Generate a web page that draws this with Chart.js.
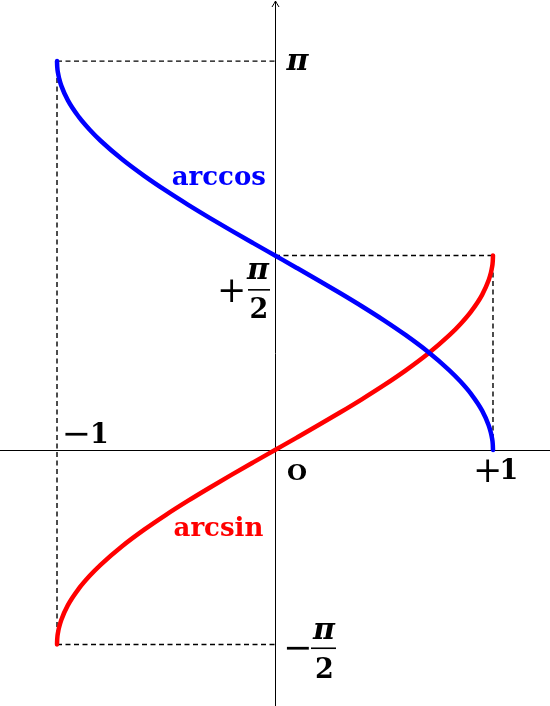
<!DOCTYPE html>
<html><head><meta charset="utf-8">
<script src="https://cdn.jsdelivr.net/npm/chart.js@4/dist/chart.umd.min.js"></script>
<style>html,body{margin:0;padding:0;background:#fff;}canvas{display:block}</style>
</head><body><canvas id="c" width="550" height="706"></canvas>
<script>
// x samples and the values
const xValues = [-1, -0.999, -0.995, -0.99, -0.98, -0.95, -0.9, -0.85, -0.8, -0.7, -0.6, -0.5, -0.4, -0.3, -0.2, -0.1, 0,
  0.1, 0.2, 0.3, 0.4, 0.5, 0.6, 0.7, 0.8, 0.85, 0.9, 0.95, 0.98, 0.99, 0.995, 0.999, 1];
const arcsinValues = [-1.5708, -1.5260, -1.4707, -1.4293, -1.3705, -1.2532, -1.1198, -1.0160, -0.9273, -0.7754, -0.6435, -0.5236, -0.4115, -0.3047, -0.2014, -0.1002, 0,
  0.1002, 0.2014, 0.3047, 0.4115, 0.5236, 0.6435, 0.7754, 0.9273, 1.0160, 1.1198, 1.2532, 1.3705, 1.4293, 1.4707, 1.5260, 1.5708];
const arccosValues = [3.1416, 3.0968, 3.0415, 3.0001, 2.9413, 2.8240, 2.6906, 2.5868, 2.4981, 2.3462, 2.2143, 2.0944, 1.9823, 1.8755, 1.7722, 1.6710, 1.5708,
  1.4706, 1.3694, 1.2661, 1.1593, 1.0472, 0.9273, 0.7954, 0.6435, 0.5548, 0.4510, 0.3176, 0.2003, 0.1415, 0.1002, 0.0447, 0];
const seriesNames = ['arcsin', 'arccos'];
// key levels on the axes
const PI_VAL = 3.1416, HALF_PI = 1.5708;
const guideX = [[-1, 0], [-1, -1], [-1, 0], [0, 1], [1, 1]];
const guideY = [[PI_VAL, PI_VAL], [PI_VAL, -HALF_PI], [-HALF_PI, -HALF_PI], [HALF_PI, HALF_PI], [HALF_PI, 0]];
const xRange = [-1.2615, 1.2615];
const yRange = [-2.068, 3.635];

const toPts = (xs, ys) => xs.map((x, i) => ({x: x, y: ys[i]}));

const datasets = [];
guideX.forEach((gx, i) => {
  datasets.push({
    data: toPts(gx, guideY[i]), borderColor: '#000', borderWidth: 1.4, borderDash: [5, 3.5],
    pointRadius: 0, showLine: true, order: 2, tension: 0
  });
});
datasets.push({
  label: seriesNames[0], data: toPts(xValues, arcsinValues), borderColor: '#ff0000', borderWidth: 4.5,
  pointRadius: 0, showLine: true, order: 1, cubicInterpolationMode: 'monotone', borderCapStyle: 'round', borderJoinStyle: 'round'
});
datasets.push({
  label: seriesNames[1], data: toPts(xValues, arccosValues), borderColor: '#0000ff', borderWidth: 4.5,
  pointRadius: 0, showLine: true, order: 0, cubicInterpolationMode: 'monotone', borderCapStyle: 'round', borderJoinStyle: 'round'
});

function drawInk(ctx, text, cx, cy, font, color) {
  ctx.font = font;
  ctx.fillStyle = color;
  const m = ctx.measureText(text);
  const w = m.actualBoundingBoxLeft + m.actualBoundingBoxRight;
  const h = m.actualBoundingBoxAscent + m.actualBoundingBoxDescent;
  ctx.textAlign = 'left';
  ctx.textBaseline = 'alphabetic';
  ctx.fillText(text, cx - w / 2 + m.actualBoundingBoxLeft, cy - h / 2 + m.actualBoundingBoxAscent);
}

const DIGIT = 'bold 27px "DejaVu Serif"';
const PIF = 'bold italic 30px "DejaVu Serif"';
const SIGN = '35px "DejaVu Serif"';
const LBL = 'bold 26px "DejaVu Serif"';

const axesPlugin = {
  id: 'axes',
  beforeDatasetsDraw(chart) {
    const ctx = chart.ctx, xs = chart.scales.x, ys = chart.scales.y, a = chart.chartArea;
    const x0 = Math.round(xs.getPixelForValue(0)) + 0.5, y0 = Math.round(ys.getPixelForValue(0)) + 0.5;
    ctx.save();
    ctx.strokeStyle = '#000'; ctx.lineWidth = 1;
    ctx.beginPath();
    ctx.moveTo(a.left, y0); ctx.lineTo(a.right, y0);
    ctx.moveTo(x0, a.bottom); ctx.lineTo(x0, a.top + 1);
    ctx.stroke();
    ctx.beginPath();
    ctx.moveTo(x0 - 3.5, a.top + 7); ctx.quadraticCurveTo(x0 - 1, a.top + 3, x0, a.top + 1);
    ctx.quadraticCurveTo(x0 + 1, a.top + 3, x0 + 3.5, a.top + 7);
    ctx.stroke();
    ctx.restore();
  },
  afterDraw(chart) {
    const ctx = chart.ctx, xs = chart.scales.x, ys = chart.scales.y;
    const px = v => xs.getPixelForValue(v), py = v => ys.getPixelForValue(v);
    const X0 = px(0), Y0 = py(0), YP = py(PI_VAL), YH = py(HALF_PI), YN = py(-HALF_PI);
    ctx.save();
    // pi
    drawInk(ctx, 'π', X0 + 22.5, YP + 0.5, PIF, '#000');
    // + pi/2
    drawInk(ctx, '+', X0 - 43.5, YH + 34.5, SIGN, '#000');
    drawInk(ctx, 'π', X0 - 17, YH + 15, PIF, '#000');
    ctx.fillStyle = '#000'; ctx.fillRect(X0 - 27, YH + 33.5, 22, 1.6);
    drawInk(ctx, '2', X0 - 16.5, YH + 51.5, DIGIT, '#000');
    // - pi/2
    drawInk(ctx, '−', X0 + 22.5, YN + 3.5, SIGN, '#000');
    drawInk(ctx, 'π', X0 + 49, YN - 13, PIF, '#000');
    ctx.fillStyle = '#000'; ctx.fillRect(X0 + 36, YN + 3, 25, 1.6);
    drawInk(ctx, '2', X0 + 49, YN + 23.5, DIGIT, '#000');
    // -1, +1, O
    drawInk(ctx, '−', px(-1) + 19, Y0 - 16, SIGN, '#000');
    drawInk(ctx, '1', px(-1) + 43, Y0 - 17, DIGIT, '#000');
    drawInk(ctx, '+', px(1) - 5.5, Y0 + 21, SIGN, '#000');
    drawInk(ctx, '1', px(1) + 16.5, Y0 + 19, DIGIT, '#000');
    drawInk(ctx, 'O', X0 + 22, Y0 + 22, 'bold 23px "DejaVu Serif"', '#000');
    // curve names
    drawInk(ctx, seriesNames[1], 219, 178, LBL, '#0000ff');
    drawInk(ctx, seriesNames[0], 219, 526, LBL, '#ff0000');
    ctx.restore();
  }
};

new Chart(document.getElementById('c'), {
  type: 'scatter',
  data: { datasets: datasets },
  options: {
    responsive: false, animation: false, events: [],
    layout: { padding: 0 },
    plugins: { legend: { display: false }, tooltip: { enabled: false } },
    scales: {
      x: { type: 'linear', min: xRange[0], max: xRange[1], display: false },
      y: { type: 'linear', min: yRange[0], max: yRange[1], display: false }
    }
  },
  plugins: [axesPlugin]
});
</script>
</body></html>
